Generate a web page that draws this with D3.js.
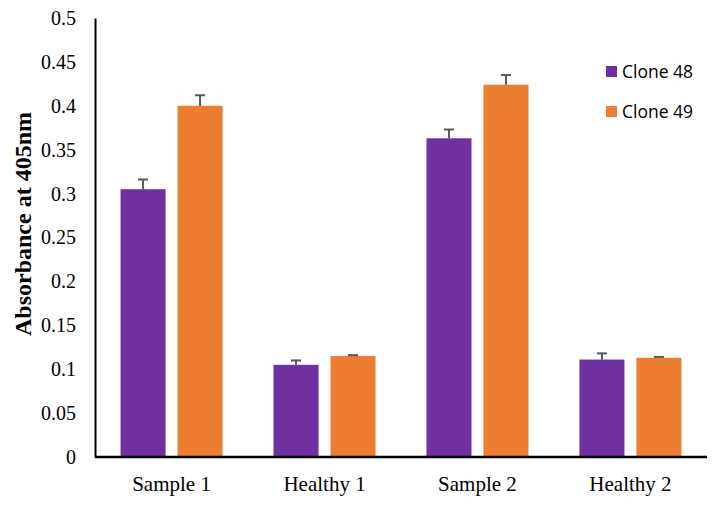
<!DOCTYPE html>
<html>
<head>
<meta charset="utf-8">
<script src="https://cdn.jsdelivr.net/npm/d3@7"></script>
<style>
  body { margin: 0; background: #fff; }
  svg { display: block; }
</style>
</head>
<body>
<div id="chart"></div>
<script>
// chart values
const categories = ["Sample 1", "Healthy 1", "Sample 2", "Healthy 2"];
const seriesNames = ["Clone 48", "Clone 49"];
const clone48 = [0.305, 0.105, 0.363, 0.111];
const clone49 = [0.400, 0.115, 0.424, 0.113];
const err48 = [0.011, 0.005, 0.010, 0.007];
const err49 = [0.012, 0.001, 0.011, 0.001];
const yTicks = [0, 0.05, 0.1, 0.15, 0.2, 0.25, 0.3, 0.35, 0.4, 0.45, 0.5];
const colors = ["#7030A0", "#ED7D31"];

const width = 720, height = 506;
const margin = {top: 18, right: 13, bottom: 49, left: 95};
const serif = "Liberation Serif, Times New Roman, serif";

const svg = d3.select("#chart").append("svg")
  .attr("width", width)
  .attr("height", height);

const x = d3.scaleBand()
  .domain(categories)
  .range([margin.left, width - margin.right])
  .paddingInner(0.333)
  .paddingOuter(0.167);

const x1 = d3.scaleBand()
  .domain(seriesNames)
  .range([0, x.bandwidth()])
  .paddingInner(0.21);

const y = d3.scaleLinear()
  .domain([0, 0.5])
  .range([height - margin.bottom, margin.top]);

// one row per bar
const rows = [];
categories.forEach((c, i) => {
  rows.push({cat: c, s: 0, v: clone48[i], e: err48[i]});
  rows.push({cat: c, s: 1, v: clone49[i], e: err49[i]});
});

// bars
svg.append("g").selectAll("rect")
  .data(rows)
  .join("rect")
  .attr("x", d => x(d.cat) + x1(seriesNames[d.s]))
  .attr("y", d => y(d.v))
  .attr("width", x1.bandwidth())
  .attr("height", d => y(0) - y(d.v))
  .attr("fill", d => colors[d.s]);

// error bars (upper half only)
const eb = svg.append("g").attr("stroke", "#595959").attr("stroke-width", 2);
rows.forEach(d => {
  const cx = x(d.cat) + x1(seriesNames[d.s]) + x1.bandwidth() / 2;
  eb.append("line")
    .attr("x1", cx).attr("x2", cx)
    .attr("y1", y(d.v)).attr("y2", y(d.v + d.e));
  eb.append("line")
    .attr("x1", cx - 5).attr("x2", cx + 5)
    .attr("y1", y(d.v + d.e)).attr("y2", y(d.v + d.e));
});

// y axis
const yAxis = svg.append("g")
  .attr("transform", `translate(${margin.left},0)`)
  .call(d3.axisLeft(y).tickValues(yTicks).tickSize(0).tickPadding(19)
    .tickFormat(d => d3.format("~g")(d)));
yAxis.select(".domain").attr("stroke", "#000").attr("stroke-width", 2);
yAxis.selectAll("text")
  .attr("font-family", serif)
  .attr("font-size", 20)
  .attr("fill", "#000");

// x axis
const xAxis = svg.append("g")
  .attr("transform", `translate(0,${height - margin.bottom})`)
  .call(d3.axisBottom(x).tickSize(0).tickPadding(19));
xAxis.select(".domain")
  .attr("d", `M${margin.left},0H${width - margin.right}`)
  .attr("stroke", "#000").attr("stroke-width", 2.5);
xAxis.selectAll("text")
  .attr("font-family", serif)
  .attr("font-size", 21)
  .attr("fill", "#000");

// y title
svg.append("text")
  .attr("transform", "translate(31,224) rotate(-90)")
  .attr("text-anchor", "middle")
  .attr("font-family", serif)
  .attr("font-weight", "bold")
  .attr("font-size", 24)
  .text("Absorbance at 405nm");

// legend
const legend = svg.append("g").attr("transform", "translate(606,66)");
seriesNames.forEach((name, i) => {
  const g = legend.append("g").attr("transform", `translate(0,${i * 40})`);
  g.append("rect").attr("width", 11).attr("height", 11).attr("fill", colors[i]);
  g.append("text")
    .attr("x", 16).attr("y", 11.5)
    .attr("font-family", "Open Sans, sans-serif")
    .attr("font-size", 17.5)
    .attr("fill", "#000")
    .text(name);
});
</script>
</body>
</html>
